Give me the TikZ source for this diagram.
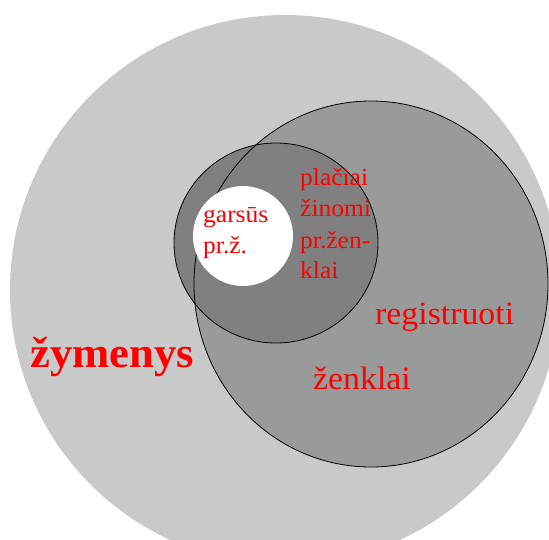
\documentclass[tikz,border=0pt]{standalone}
\usepackage{fontspec}
\setmainfont[FakeStretch=1.04]{Liberation Serif}
\definecolor{lightg}{HTML}{C8CAC9}
\definecolor{midg}{HTML}{999B9A}
\definecolor{darkg}{HTML}{808080}
\tikzset{
  lbl/.style={anchor=base west, inner sep=0pt, text=red},
  ring/.style={draw=black, line width=0.8pt}
}
\begin{document}
\begin{tikzpicture}[x=1pt,y=-1pt]
\useasboundingbox (0,0) rectangle (549,539);
\begin{scope}
\clip (0,0) rectangle (549,539);
\fill[lightg] (285,290) circle (275);
\fill[midg] (371,284) ellipse [x radius=177, y radius=183];
\fill[darkg] (276,243) ellipse [x radius=102, y radius=100];
\draw[ring] (371,284) ellipse [x radius=177, y radius=183];
\draw[ring] (276,243) ellipse [x radius=102, y radius=100];
\fill[white] (243,236) circle (50);
\end{scope}
\node[lbl, font=\fontsize{24.5}{24.5}\selectfont] (g1) at (203,222) {garsūs};
\node[lbl, font=\fontsize{24.5}{24.5}\selectfont] (g2) at (203,253) {pr.ž.};
\node[lbl, font=\fontsize{24.5}{24.5}\selectfont] (p1) at (300,185) {plačiai};
\node[lbl, font=\fontsize{24.5}{24.5}\selectfont] (p2) at (300,216) {žinomi};
\node[lbl, font=\fontsize{24.5}{24.5}\selectfont] (p3) at (300,248) {pr.žen-};
\node[lbl, font=\fontsize{24.5}{24.5}\selectfont] (p4) at (300,278) {klai};
\node[lbl, font=\fontsize{32.5}{32.5}\selectfont] (r1) at (375,324) {registruoti};
\node[lbl, font=\fontsize{32.5}{32.5}\selectfont] (r2) at (313,389) {ženklai};
\node[lbl, font=\bfseries\fontsize{43}{43}\selectfont] (z) at (30,367) {žymenys};
\end{tikzpicture}
\end{document}
